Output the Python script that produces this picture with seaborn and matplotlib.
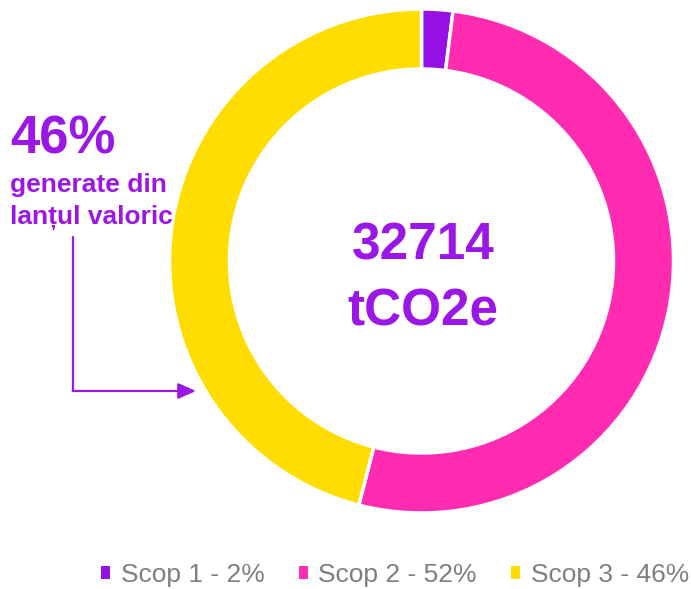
import matplotlib.pyplot as plt
import seaborn as sns

# emissions split by scope (percent)
scopes = ["Scop 1", "Scop 2", "Scop 3"]
shares = [2, 52, 46]
colors = ["#9410E4", "#FF2BB0", "#FFDD00"]
total_value = "32714"
total_unit = "tCO2e"
note_big = "46%"
note_lines = ["generate din", "lanțul valoric"]

sns.set_theme(style="white")
plt.rcParams["font.family"] = ["Liberation Sans", "DejaVu Sans"]
purple = "#9A17E6"

fig = plt.figure(figsize=(6.91, 5.89), dpi=100)
ax = fig.add_axes([0, 0, 1, 1])

wedges, _ = ax.pie(shares, colors=sns.color_palette(colors), startangle=90,
                   counterclock=False, radius=252, center=(421.5, 328),
                   wedgeprops=dict(width=60, edgecolor="white", linewidth=2.5))
ax.set_xlim(0, 691)
ax.set_ylim(0, 589)
ax.set_aspect("auto")
ax.axis("off")

# total in the middle of the ring
ax.text(423, 329, total_value, ha="center", va="baseline", fontsize=37,
        fontweight="bold", color=purple)
ax.text(423, 264, total_unit, ha="center", va="baseline", fontsize=37,
        fontweight="bold", color=purple)

# side note with arrow pointing to scope 3
ax.text(10, 435, note_big, ha="left", va="baseline", fontsize=38,
        fontweight="bold", color=purple)
ax.text(10, 397, note_lines[0], ha="left", va="baseline",
        fontsize=19, fontweight="bold", color=purple)
ax.text(10, 365, note_lines[1], ha="left", va="baseline",
        fontsize=19, fontweight="bold", color=purple)

ax.plot([73.5, 73.5], [352, 198], color=purple, lw=1.6)
ax.annotate("", xy=(196, 198), xytext=(72.7, 198),
            arrowprops=dict(arrowstyle="-|>,head_length=0.9,head_width=0.4",
                            color=purple, lw=1.6, shrinkA=0, shrinkB=0))

labels = [f"{s} - {p}%" for s, p in zip(scopes, shares)]
leg = ax.legend(wedges, labels, loc="center", bbox_to_anchor=(395 / 691, 14 / 589),
                ncol=3, frameon=False, fontsize=19, handlelength=0.35,
                handleheight=0.35, handletextpad=0.4, columnspacing=1.3,
                borderpad=0)
for h in leg.legend_handles:
    h.set_linewidth(0)
for t in leg.get_texts():
    t.set_color("#7f7f7f")

plt.savefig("out.png", dpi=100)
